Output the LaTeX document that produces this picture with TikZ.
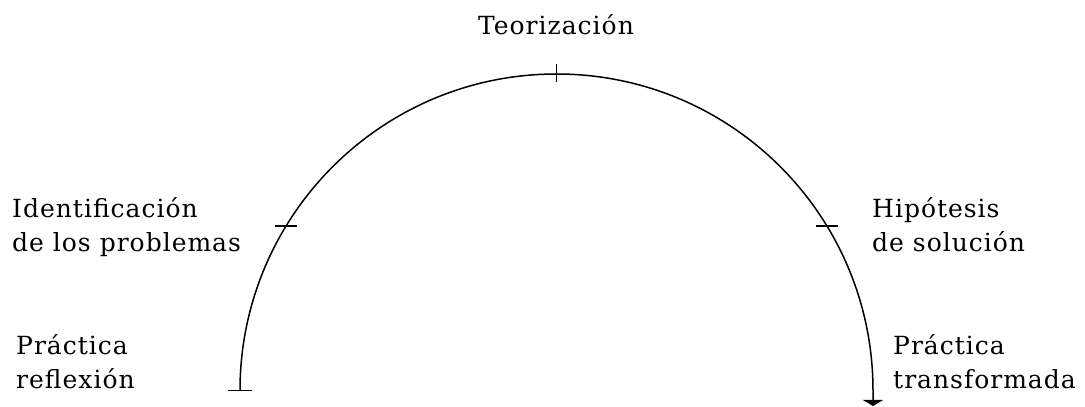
\documentclass[tikz,border=0pt]{standalone}
\usepackage{fontspec}
\setmainfont{DejaVu Serif}[LetterSpace=4]
\usetikzlibrary{arrows.meta}
\begin{document}
\begin{tikzpicture}[x=1pt,y=1pt,
  lbl/.style={font=\fontsize{25}{34}\selectfont, inner sep=0pt, align=left, anchor=base west},
  curve/.style={line width=1.5pt},
  tickmark/.style={line width=1.2pt}]
\useasboundingbox (0,0) rectangle (1085,407);
% curve
\coordinate (L) at (240,16.5);
\coordinate (R) at (873,16.5);
\coordinate (tip) at (873,1);
\draw[curve,-{Triangle[width=20pt,length=6pt]}] (L) arc[start angle=180,end angle=0,radius=316.5] -- (tip);
% ticks
\coordinate (tT) at (556.5,333);
\coordinate (tL) at (286,181);
\coordinate (tR) at (827,181);
\draw[tickmark] ([yshift=10pt]tT) -- ([yshift=-8pt]tT);
\draw[tickmark] ([xshift=-11pt]tL) -- ([xshift=11pt]tL);
\draw[tickmark] ([xshift=-11pt]tR) -- ([xshift=11pt]tR);
\draw[tickmark] ([xshift=-12pt]L) -- ([xshift=12pt]L);
% labels (base anchor = baseline of last line)
\node[lbl,anchor=base] (teo) at (556,372) {Teorización};
\node[lbl] (ident) at (12,155) {Identificación\\de los problemas};
\node[lbl] (hipo) at (872,155) {Hipótesis\\de solución};
\node[lbl] (pr1) at (16,18) {Práctica\\reflexión};
\node[lbl] (pr2) at (893,18) {Práctica\\transformada};
\end{tikzpicture}
\end{document}
